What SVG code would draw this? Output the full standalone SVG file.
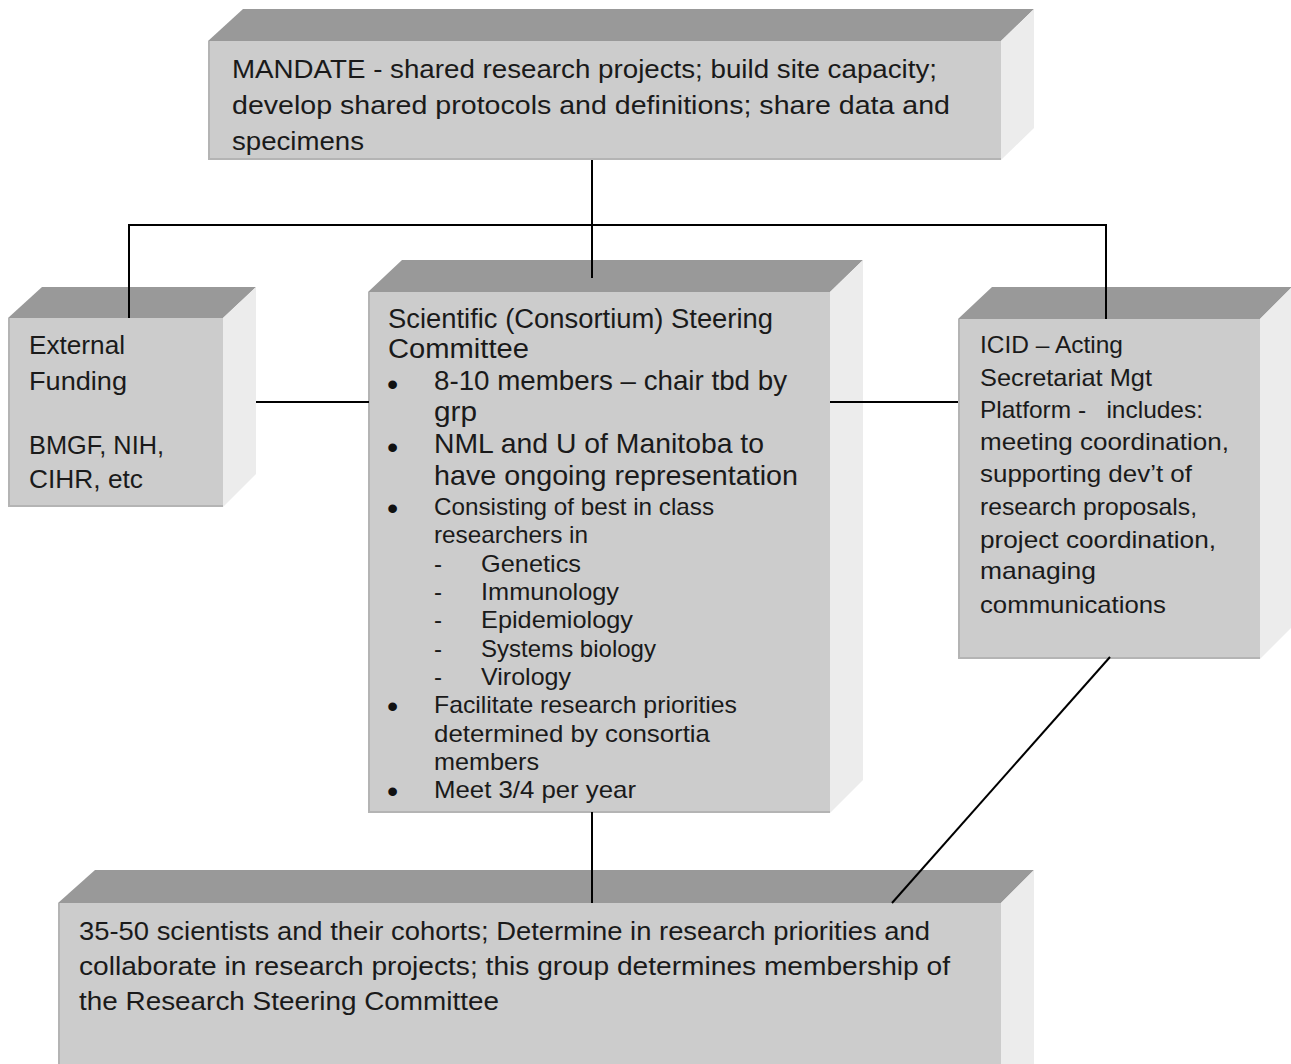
<svg xmlns="http://www.w3.org/2000/svg" width="1291" height="1064" viewBox="0 0 1291 1064">
<style>
.top{fill:#999999}
.side{fill:#ececec}
.front{fill:#cccccc}
.edge{fill:none;stroke:#b4b4b4;stroke-width:2}
.t{font-family:"Liberation Sans",Arial,sans-serif;fill:#1a1a1a}
.b{font-family:"Liberation Sans",Arial,sans-serif;fill:#111111;font-size:32px}
.conn{stroke:#000;stroke-width:2;fill:none}
</style>
<rect width="1291" height="1064" fill="#ffffff"/>

<g id="mandate">
<polygon class="top" points="208,41 243,9 1034,9 1001,41"/>
<polygon class="side" points="1001,41 1034,9 1034,128 1001,160"/>
<rect class="front" x="208" y="41" width="793" height="119"/>
<polyline class="edge" points="209,41 209,159 1001,159"/>
<text class="t" font-size="26" x="232" y="78" textLength="705" lengthAdjust="spacingAndGlyphs">MANDATE - shared research projects; build site capacity;</text>
<text class="t" font-size="26" x="232" y="114" textLength="718" lengthAdjust="spacingAndGlyphs">develop shared protocols and definitions; share data and</text>
<text class="t" font-size="26" x="232" y="150" textLength="132" lengthAdjust="spacingAndGlyphs">specimens</text>
</g>

<g id="external-funding">
<polygon class="top" points="8,318 42,287 256,287 223,318"/>
<polygon class="side" points="223,318 256,287 256,474 223,507"/>
<rect class="front" x="8" y="318" width="215" height="189"/>
<polyline class="edge" points="9,318 9,506 223,506"/>
<text class="t" font-size="25" x="29" y="354" textLength="96" lengthAdjust="spacingAndGlyphs">External</text>
<text class="t" font-size="25" x="29" y="390" textLength="98" lengthAdjust="spacingAndGlyphs">Funding</text>
<text class="t" font-size="25" x="29" y="454" textLength="135" lengthAdjust="spacingAndGlyphs">BMGF, NIH,</text>
<text class="t" font-size="25" x="29" y="488" textLength="114" lengthAdjust="spacingAndGlyphs">CIHR, etc</text>
</g>

<g id="steering-committee">
<polygon class="top" points="368,292 402,260 863,260 830,292"/>
<polygon class="side" points="830,292 863,260 863,780 830,813"/>
<rect class="front" x="368" y="292" width="462" height="521"/>
<polyline class="edge" points="369,292 369,812 830,812"/>
<text class="t" font-size="27" x="388" y="328" textLength="385" lengthAdjust="spacingAndGlyphs">Scientific (Consortium) Steering</text>
<text class="t" font-size="27" x="388" y="358" textLength="141" lengthAdjust="spacingAndGlyphs">Committee</text>
<text class="b" x="387" y="395">•</text>
<text class="t" font-size="28" x="434" y="390" textLength="353" lengthAdjust="spacingAndGlyphs">8-10 members – chair tbd by</text>
<text class="t" font-size="28" x="434" y="421" textLength="43" lengthAdjust="spacingAndGlyphs">grp</text>
<text class="b" x="387" y="458">•</text>
<text class="t" font-size="28" x="434" y="453" textLength="330" lengthAdjust="spacingAndGlyphs">NML and U of Manitoba to</text>
<text class="t" font-size="28" x="434" y="485" textLength="364" lengthAdjust="spacingAndGlyphs">have ongoing representation</text>
<text class="b" x="387" y="519">•</text>
<text class="t" font-size="24" x="434" y="515" textLength="280" lengthAdjust="spacingAndGlyphs">Consisting of best in class</text>
<text class="t" font-size="24" x="434" y="543" textLength="154" lengthAdjust="spacingAndGlyphs">researchers in</text>
<text class="t" font-size="24" x="434" y="572">-</text>
<text class="t" font-size="24" x="481" y="572" textLength="100" lengthAdjust="spacingAndGlyphs">Genetics</text>
<text class="t" font-size="24" x="434" y="600">-</text>
<text class="t" font-size="24" x="481" y="600" textLength="138" lengthAdjust="spacingAndGlyphs">Immunology</text>
<text class="t" font-size="24" x="434" y="628">-</text>
<text class="t" font-size="24" x="481" y="628" textLength="152" lengthAdjust="spacingAndGlyphs">Epidemiology</text>
<text class="t" font-size="24" x="434" y="657">-</text>
<text class="t" font-size="24" x="481" y="657" textLength="175" lengthAdjust="spacingAndGlyphs">Systems biology</text>
<text class="t" font-size="24" x="434" y="685">-</text>
<text class="t" font-size="24" x="481" y="685" textLength="90" lengthAdjust="spacingAndGlyphs">Virology</text>
<text class="b" x="387" y="717">•</text>
<text class="t" font-size="24" x="434" y="713" textLength="303" lengthAdjust="spacingAndGlyphs">Facilitate research priorities</text>
<text class="t" font-size="24" x="434" y="742" textLength="276" lengthAdjust="spacingAndGlyphs">determined by consortia</text>
<text class="t" font-size="24" x="434" y="770" textLength="105" lengthAdjust="spacingAndGlyphs">members</text>
<text class="b" x="387" y="802">•</text>
<text class="t" font-size="24" x="434" y="798" textLength="202" lengthAdjust="spacingAndGlyphs">Meet 3/4 per year</text>
</g>

<g id="icid-secretariat">
<polygon class="top" points="958,319 992,287 1292,287 1260,319"/>
<polygon class="side" points="1260,319 1292,287 1292,627 1260,659"/>
<rect class="front" x="958" y="319" width="302" height="340"/>
<polyline class="edge" points="959,319 959,658 1260,658"/>
<text class="t" font-size="24" x="980" y="353" textLength="143" lengthAdjust="spacingAndGlyphs">ICID – Acting</text>
<text class="t" font-size="24" x="980" y="386" textLength="172" lengthAdjust="spacingAndGlyphs">Secretariat Mgt</text>
<text class="t" font-size="24" x="980" y="418" textLength="223" lengthAdjust="spacingAndGlyphs" xml:space="preserve">Platform -   includes:</text>
<text class="t" font-size="24" x="980" y="450" textLength="249" lengthAdjust="spacingAndGlyphs">meeting coordination,</text>
<text class="t" font-size="24" x="980" y="482" textLength="212" lengthAdjust="spacingAndGlyphs">supporting dev’t of</text>
<text class="t" font-size="24" x="980" y="515" textLength="217" lengthAdjust="spacingAndGlyphs">research proposals,</text>
<text class="t" font-size="24" x="980" y="548" textLength="236" lengthAdjust="spacingAndGlyphs">project coordination,</text>
<text class="t" font-size="24" x="980" y="579" textLength="116" lengthAdjust="spacingAndGlyphs">managing</text>
<text class="t" font-size="24" x="980" y="613" textLength="186" lengthAdjust="spacingAndGlyphs">communications</text>
</g>

<g id="scientists">
<polygon class="top" points="58,903 95,870 1034,870 1001,903"/>
<polygon class="side" points="1001,903 1034,870 1034,1064 1001,1064"/>
<rect class="front" x="58" y="903" width="943" height="161"/>
<line class="edge" x1="59" y1="903" x2="59" y2="1064"/>
<text class="t" font-size="26" x="79" y="940" textLength="851" lengthAdjust="spacingAndGlyphs">35-50 scientists and their cohorts; Determine in research priorities and</text>
<text class="t" font-size="26" x="79" y="975" textLength="871" lengthAdjust="spacingAndGlyphs">collaborate in research projects; this group determines membership of</text>
<text class="t" font-size="26" x="79" y="1010" textLength="420" lengthAdjust="spacingAndGlyphs">the Research Steering Committee</text>
</g>

<g id="connectors">
<line class="conn" x1="592" y1="160" x2="592" y2="278"/>
<line class="conn" x1="129" y1="225" x2="1106" y2="225"/>
<line class="conn" x1="129" y1="224" x2="129" y2="318"/>
<line class="conn" x1="1106" y1="224" x2="1106" y2="319"/>
<line class="conn" x1="256" y1="402" x2="369" y2="402"/>
<line class="conn" x1="830" y1="402" x2="958" y2="402"/>
<line class="conn" x1="592" y1="812" x2="592" y2="903"/>
<line class="conn" x1="1110" y1="657" x2="892" y2="903"/>
</g>
</svg>
